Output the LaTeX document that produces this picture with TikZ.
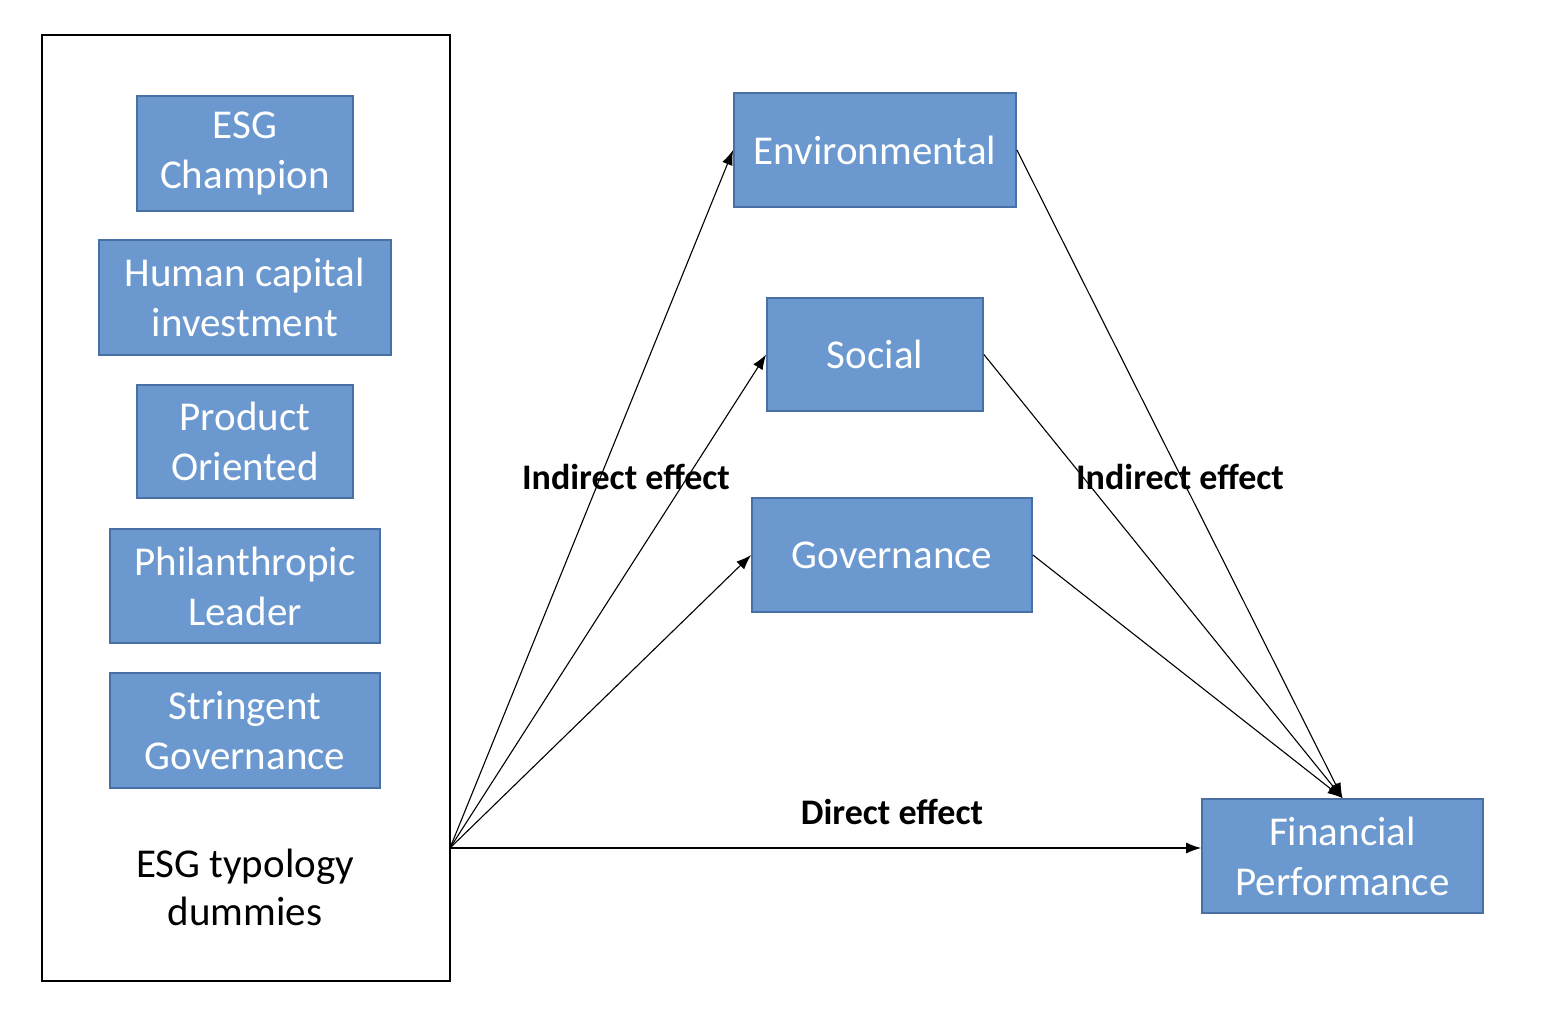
\documentclass[tikz,border=0pt]{standalone}
\usepackage{fontspec}
\setmainfont{Carlito}
\usetikzlibrary{arrows.meta}
\definecolor{boxfill}{RGB}{106,152,207}
\definecolor{boxline}{RGB}{72,112,165}
\tikzset{
  bluebox/.style={draw=boxline, line width=1.8pt, fill=boxfill, text=white, align=center,
    inner sep=0pt, font=\fontsize{41}{50}\selectfont},
  conn/.style={line width=1.1pt, -{Latex[length=15pt,width=11pt]}},
  lbl/.style={font=\bfseries\fontsize{36}{40}\selectfont, inner sep=0pt}
}
\begin{document}
\begin{tikzpicture}[x=1pt,y=-1pt]
\useasboundingbox (0,0) rectangle (1568,1022);
\node[draw=black, line width=2.2pt, minimum width=408pt, minimum height=946pt, inner sep=0pt] (frame) at (246,508) {};
\node[bluebox, minimum width=216pt, minimum height=115pt] (champ) at (245,153.5) {ESG\\Champion};
\node[bluebox, minimum width=292pt, minimum height=115pt] (human) at (245,297.5) {Human capital\\investment};
\node[bluebox, minimum width=216pt, minimum height=113pt] (prod) at (245,441.5) {Product\\Oriented};
\node[bluebox, minimum width=270pt, minimum height=114pt] (phil) at (245,586) {Philanthropic\\Leader};
\node[bluebox, minimum width=270pt, minimum height=115pt] (string) at (245,730.5) {Stringent\\Governance};
\node[align=center, font=\fontsize{41}{48}\selectfont, inner sep=0pt] (dummies) at (245,887) {ESG typology\\dummies};
\node[bluebox, minimum width=282pt, minimum height=114pt] (env) at (875,150) {Environmental};
\node[bluebox, minimum width=216pt, minimum height=113pt] (soc) at (875,354.5) {Social};
\node[bluebox, minimum width=280pt, minimum height=114pt] (gov) at (892,555) {Governance};
\node[bluebox, minimum width=281pt, minimum height=114pt] (fin) at (1342.5,856) {Financial\\Performance};
\coordinate (src) at (450,848);
\draw[conn] (src) -- (env.west);
\draw[conn] (src) -- (soc.west);
\draw[conn] (src) -- (gov.west);
\draw[conn] (src) -- (src -| fin.west);
\draw[conn] (env.east) -- (fin.north);
\draw[conn] (soc.east) -- (fin.north);
\draw[conn] (gov.east) -- (fin.north);
\node[lbl] (ind1) at (626,477) {Indirect effect};
\node[lbl] (ind2) at (1180,477) {Indirect effect};
\node[lbl] (dir) at (892,812) {Direct effect};
\end{tikzpicture}
\end{document}
